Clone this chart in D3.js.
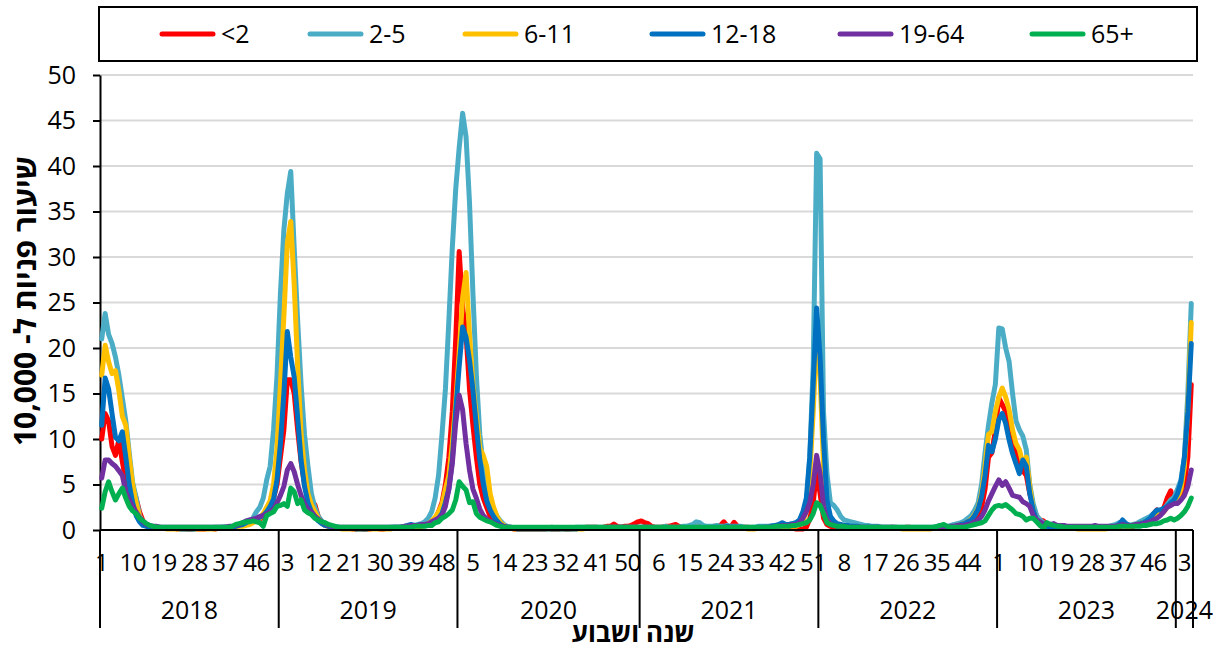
<!DOCTYPE html>
<html lang="he">
<head>
  <meta charset="UTF-8">
  <title>שיעור פניות ל- 10,000</title>
  <script src="https://cdn.jsdelivr.net/npm/d3@7"></script>
  <style>
    body { margin: 0; background: #fff; }
    svg text { font-family: "Open Sans", "DejaVu Sans", sans-serif; fill: #000; }
  </style>
</head>
<body>
<svg id="chart" width="1215" height="650"></svg>
<script>
  // categories: ISO year + week
  const years = [2018, 2019, 2020, 2021, 2022, 2023, 2024];
  const weeksPerYear = [52, 52, 53, 52, 52, 52, 5];
  const labelEvery = 9;
  const yTicks = [0, 5, 10, 15, 20, 25, 30, 35, 40, 45, 50];
  const seriesNames = ['<2', '2-5', '6-11', '12-18', '19-64', '65+'];
  const seriesColors = ['#ff0000', '#4bacc6', '#ffc000', '#0070c0', '#7030a0', '#00b050'];

  // weekly rates per 10,000, one row per year
  const lt2 = [
    [10, 12.8, 12, 9.2, 8.2, 9.9, 7.5, 5.5, 4.5, 4.5, 3.5, 2, 1, 0.6, 0.4, 0.3, 0.3, 0.2, 0.2, 0.2, 0.2, 0.2, 0.1, 0.2, 0.2, 0.1, 0.1, 0.2, 0.1, 0.1, 0.1, 0.2, 0.2, 0.1, 0.2, 0.2, 0.3, 0.3, 0.3, 0.4, 0.5, 0.6, 0.7, 0.9, 1, 1.1, 1.2, 1.4, 1.8, 2.5, 3.5, 5],
    [8, 11, 16.5, 16.5, 15, 11, 7.5, 5, 3.5, 3, 2.8, 1.5, 0.8, 0.5, 0.4, 0.3, 0.3, 0.2, 0.2, 0.2, 0.2, 0.1, 0.1, 0.2, 0.1, 0.1, 0.1, 0.2, 0.2, 0.1, 0.1, 0.2, 0.2, 0.2, 0.2, 0.3, 0.3, 0.3, 0.4, 0.4, 0.4, 0.5, 0.5, 0.6, 0.8, 1.2, 2, 3, 5, 8, 13, 21],
    [30.6, 24.5, 21.5, 15.5, 11.5, 8, 5, 3.5, 2.5, 1.5, 1, 0.7, 0.5, 0.3, 0.2, 0.2, 0.1, 0.1, 0.1, 0.1, 0.1, 0.1, 0.1, 0.1, 0.1, 0.1, 0.2, 0.1, 0.1, 0.1, 0.2, 0.1, 0.1, 0.2, 0.2, 0.2, 0.2, 0.3, 0.3, 0.3, 0.3, 0.2, 0.3, 0.4, 0.4, 0.65, 0.4, 0.3, 0.4, 0.4, 0.5, 0.7, 0.9],
    [1, 0.8, 0.7, 0.4, 0.3, 0.3, 0.3, 0.4, 0.4, 0.5, 0.6, 0.4, 0.3, 0.3, 0.3, 0.2, 0.3, 0.3, 0.3, 0.3, 0.3, 0.4, 0.4, 0.5, 0.9, 0.4, 0.3, 0.85, 0.4, 0.3, 0.3, 0.3, 0.2, 0.2, 0.2, 0.2, 0.2, 0.3, 0.3, 0.3, 0.3, 0.3, 0.3, 0.3, 0.2, 0.1, 0.1, 0.1, 0.3, 1.2, 3, 6.5],
    [4, 1.3, 0.6, 0.4, 0.3, 0.3, 0.3, 0.2, 0.2, 0.3, 0.3, 0.3, 0.2, 0.2, 0.2, 0.2, 0.2, 0.2, 0.2, 0.2, 0.2, 0.3, 0.2, 0.2, 0.2, 0.3, 0.3, 0.2, 0.2, 0.2, 0.2, 0.2, 0.2, 0.2, 0.2, 0.3, 0.3, 0.3, 0.3, 0.3, 0.4, 0.4, 0.5, 0.6, 0.8, 1, 1.5, 2.5, 4.5, 8, 8.5, 11],
    [14.5, 13.8, 13, 11.5, 10, 8.5, 7.5, 6.5, 6, 4, 2.6, 1.5, 1.1, 1, 0.6, 0.5, 0.4, 0.4, 0.3, 0.3, 0.3, 0.3, 0.3, 0.3, 0.2, 0.2, 0.2, 0.2, 0.2, 0.2, 0.2, 0.2, 0.2, 0.2, 0.2, 0.3, 0.5, 0.4, 0.3, 0.4, 0.5, 0.6, 0.7, 0.8, 1, 1.8, 2.2, 1.8, 2.4, 3.5, 4.3, 3.2],
    [3, 4, 5, 8, 16]
  ];
  const a2to5 = [
    [21, 23.8, 21.5, 20.5, 19, 17, 14.5, 12, 8.5, 5.2, 3.6, 1.6, 0.8, 0.5, 0.4, 0.3, 0.3, 0.3, 0.2, 0.2, 0.2, 0.2, 0.2, 0.2, 0.2, 0.2, 0.2, 0.2, 0.2, 0.2, 0.2, 0.2, 0.2, 0.3, 0.3, 0.3, 0.3, 0.3, 0.3, 0.4, 0.5, 0.6, 0.8, 1, 1.3, 2, 2.5, 3.5, 5.5, 7, 11, 17],
    [26, 33, 37, 39.4, 31, 23, 16, 10.5, 7, 4, 2.5, 1.5, 1, 0.7, 0.5, 0.4, 0.3, 0.3, 0.2, 0.2, 0.2, 0.2, 0.2, 0.2, 0.2, 0.2, 0.2, 0.2, 0.2, 0.2, 0.2, 0.2, 0.3, 0.3, 0.3, 0.3, 0.3, 0.4, 0.4, 0.5, 0.6, 0.7, 0.9, 1.3, 2, 3.5, 6, 10.5, 15.5, 23, 31, 37.5],
    [42, 45.8, 43.2, 36, 26, 17, 10.5, 7, 5, 3.5, 2.3, 1.5, 1, 0.6, 0.4, 0.3, 0.2, 0.2, 0.2, 0.2, 0.2, 0.2, 0.2, 0.2, 0.2, 0.2, 0.2, 0.3, 0.2, 0.2, 0.2, 0.2, 0.2, 0.2, 0.3, 0.3, 0.3, 0.3, 0.3, 0.3, 0.3, 0.3, 0.3, 0.3, 0.3, 0.3, 0.3, 0.3, 0.3, 0.3, 0.3, 0.3, 0.3],
    [0.3, 0.3, 0.3, 0.3, 0.3, 0.3, 0.3, 0.4, 0.3, 0.3, 0.3, 0.3, 0.4, 0.4, 0.5, 0.6, 0.9, 0.8, 0.5, 0.4, 0.4, 0.4, 0.5, 0.4, 0.4, 0.5, 0.4, 0.4, 0.4, 0.4, 0.3, 0.3, 0.3, 0.3, 0.4, 0.4, 0.4, 0.4, 0.5, 0.5, 0.5, 0.6, 0.6, 0.6, 0.7, 0.8, 1, 1.5, 2.5, 8, 18, 41.4],
    [40.8, 13, 6.2, 3, 2.7, 2.2, 1.5, 1.1, 1, 0.9, 0.8, 0.7, 0.6, 0.5, 0.5, 0.4, 0.4, 0.4, 0.3, 0.3, 0.3, 0.3, 0.3, 0.3, 0.3, 0.3, 0.3, 0.3, 0.3, 0.3, 0.3, 0.3, 0.3, 0.3, 0.4, 0.5, 0.4, 0.4, 0.5, 0.6, 0.7, 0.8, 1, 1.3, 1.6, 2.2, 3, 5, 8.5, 11.5, 14, 16],
    [22.2, 22.1, 20, 18.5, 15, 12, 11, 10.3, 8.8, 5, 2.9, 1.6, 1.1, 0.8, 0.6, 0.5, 0.5, 0.4, 0.4, 0.4, 0.3, 0.3, 0.3, 0.3, 0.3, 0.3, 0.3, 0.3, 0.3, 0.3, 0.3, 0.3, 0.4, 0.5, 0.6, 0.8, 0.9, 0.7, 0.5, 0.6, 0.7, 0.9, 1.1, 1.3, 1.5, 1.8, 1.8, 2, 2.2, 2.8, 3.3, 3.6],
    [4.5, 5.5, 8, 15, 24.9]
  ];
  const a6to11 = [
    [17, 20.3, 18.5, 17.2, 17.5, 15.3, 12.5, 11.5, 8, 5, 3, 1.5, 0.7, 0.4, 0.3, 0.2, 0.2, 0.2, 0.2, 0.1, 0.1, 0.1, 0.1, 0.1, 0.1, 0.1, 0.1, 0.1, 0.1, 0.1, 0.1, 0.1, 0.1, 0.1, 0.2, 0.2, 0.2, 0.2, 0.3, 0.3, 0.4, 0.4, 0.5, 0.6, 0.8, 1, 1.3, 1.8, 2.5, 3.2, 5, 9],
    [16, 23.5, 31.5, 33.9, 27, 18, 10.6, 6.6, 4, 2.8, 2, 1.3, 0.8, 0.5, 0.4, 0.2, 0.2, 0.2, 0.1, 0.1, 0.1, 0.1, 0.1, 0.1, 0.1, 0.1, 0.1, 0.1, 0.1, 0.1, 0.1, 0.1, 0.1, 0.2, 0.2, 0.2, 0.2, 0.3, 0.3, 0.3, 0.3, 0.4, 0.5, 0.7, 1, 1.4, 2, 2.8, 4.5, 6, 9.5, 14],
    [19.5, 25.5, 28.3, 21.5, 16, 12.5, 9, 8.2, 7, 4, 2.5, 1.5, 0.8, 0.5, 0.3, 0.2, 0.1, 0.1, 0.1, 0.1, 0.1, 0.1, 0.1, 0.1, 0.1, 0.1, 0.1, 0.1, 0.1, 0.1, 0.1, 0.1, 0.1, 0.1, 0.1, 0.1, 0.1, 0.2, 0.2, 0.2, 0.2, 0.2, 0.2, 0.2, 0.2, 0.2, 0.2, 0.2, 0.2, 0.2, 0.2, 0.2, 0.2],
    [0.2, 0.2, 0.2, 0.2, 0.2, 0.2, 0.2, 0.2, 0.2, 0.2, 0.2, 0.2, 0.2, 0.2, 0.2, 0.2, 0.3, 0.3, 0.2, 0.2, 0.2, 0.2, 0.2, 0.2, 0.2, 0.2, 0.2, 0.2, 0.2, 0.2, 0.2, 0.1, 0.1, 0.1, 0.2, 0.2, 0.2, 0.2, 0.3, 0.3, 0.3, 0.3, 0.3, 0.4, 0.4, 0.4, 0.6, 1, 2, 6, 13, 21.5],
    [17, 7, 2.5, 1.2, 0.8, 0.6, 0.5, 0.4, 0.4, 0.3, 0.3, 0.3, 0.3, 0.2, 0.2, 0.2, 0.2, 0.2, 0.2, 0.2, 0.2, 0.2, 0.2, 0.2, 0.1, 0.1, 0.1, 0.1, 0.1, 0.1, 0.1, 0.1, 0.1, 0.2, 0.2, 0.3, 0.3, 0.3, 0.3, 0.4, 0.5, 0.6, 0.7, 0.9, 1.2, 1.7, 2.4, 4, 7, 10.5, 10.8, 13],
    [14.6, 15.6, 14.6, 13.2, 11, 9.5, 8.8, 7.3, 8, 4.8, 2.2, 1.1, 0.7, 0.5, 0.4, 0.3, 0.3, 0.3, 0.2, 0.2, 0.2, 0.2, 0.2, 0.1, 0.1, 0.1, 0.1, 0.1, 0.1, 0.1, 0.1, 0.1, 0.2, 0.2, 0.3, 0.4, 0.5, 0.4, 0.4, 0.5, 0.6, 0.7, 0.8, 0.9, 1.1, 1.4, 1.6, 1.8, 2, 2.5, 2.8, 3],
    [3.5, 4.5, 7, 13.5, 22.8]
  ];
  const a12to18 = [
    [11.5, 16.7, 15.5, 12.8, 10.2, 9.8, 10.8, 8, 5, 3, 1.6, 0.9, 0.5, 0.4, 0.3, 0.3, 0.2, 0.2, 0.2, 0.2, 0.2, 0.2, 0.2, 0.1, 0.1, 0.1, 0.1, 0.1, 0.2, 0.2, 0.2, 0.2, 0.2, 0.2, 0.2, 0.3, 0.3, 0.3, 0.3, 0.4, 0.5, 0.6, 0.8, 1, 1.1, 1.2, 1.4, 1.6, 2, 2.6, 3.4, 5.5],
    [9.5, 15, 21.8, 19, 16.8, 12.4, 7.7, 4.8, 3, 2, 1.5, 1, 0.7, 0.5, 0.4, 0.3, 0.3, 0.2, 0.2, 0.2, 0.2, 0.2, 0.1, 0.1, 0.1, 0.1, 0.2, 0.2, 0.2, 0.2, 0.2, 0.2, 0.2, 0.3, 0.3, 0.3, 0.4, 0.5, 0.6, 0.5, 0.5, 0.6, 0.5, 0.6, 0.8, 1, 1.3, 1.8, 3, 4.5, 7.7, 13.2],
    [18, 22.3, 21.2, 18.7, 15.4, 11.4, 7.7, 5.1, 3.2, 2.2, 1.5, 1, 0.6, 0.4, 0.3, 0.2, 0.2, 0.1, 0.1, 0.1, 0.1, 0.1, 0.1, 0.1, 0.1, 0.1, 0.1, 0.1, 0.1, 0.1, 0.1, 0.1, 0.1, 0.1, 0.1, 0.2, 0.2, 0.2, 0.2, 0.2, 0.2, 0.2, 0.2, 0.2, 0.2, 0.2, 0.2, 0.2, 0.2, 0.2, 0.2, 0.2, 0.2],
    [0.2, 0.2, 0.2, 0.2, 0.2, 0.2, 0.2, 0.2, 0.2, 0.2, 0.2, 0.2, 0.2, 0.2, 0.2, 0.2, 0.3, 0.3, 0.2, 0.2, 0.2, 0.3, 0.3, 0.3, 0.3, 0.4, 0.3, 0.3, 0.3, 0.3, 0.2, 0.2, 0.2, 0.2, 0.3, 0.3, 0.3, 0.3, 0.4, 0.5, 0.6, 0.8, 0.6, 0.6, 0.7, 0.8, 1.1, 2, 3.5, 8, 16, 24.4],
    [19, 10, 3.3, 1.5, 1, 0.7, 0.6, 0.5, 0.5, 0.4, 0.4, 0.4, 0.3, 0.3, 0.3, 0.3, 0.3, 0.3, 0.2, 0.2, 0.2, 0.2, 0.2, 0.2, 0.2, 0.2, 0.2, 0.2, 0.2, 0.2, 0.2, 0.2, 0.2, 0.2, 0.3, 0.5, 0.4, 0.3, 0.3, 0.4, 0.5, 0.6, 0.7, 0.9, 1.1, 1.6, 2.3, 3.7, 6, 9.3, 8.6, 10],
    [12.1, 12.8, 11.7, 9.9, 8.4, 7.3, 6.2, 7.7, 7, 4, 2.2, 1.1, 0.7, 0.5, 0.4, 0.3, 0.3, 0.3, 0.3, 0.2, 0.2, 0.2, 0.2, 0.2, 0.2, 0.2, 0.2, 0.2, 0.2, 0.2, 0.2, 0.2, 0.3, 0.3, 0.4, 0.6, 1.1, 0.7, 0.5, 0.5, 0.6, 0.7, 0.8, 1, 1.3, 1.8, 2.2, 2.2, 2.4, 2.6, 3, 3.3],
    [4, 5.3, 8, 13, 20.5]
  ];
  const a19to64 = [
    [5.7, 7.7, 7.7, 7.3, 7, 6.5, 6, 4.2, 3.3, 2.6, 2, 1.4, 0.9, 0.6, 0.5, 0.4, 0.4, 0.3, 0.3, 0.3, 0.3, 0.3, 0.3, 0.3, 0.3, 0.3, 0.3, 0.3, 0.3, 0.3, 0.3, 0.3, 0.3, 0.3, 0.3, 0.3, 0.3, 0.4, 0.4, 0.5, 0.6, 0.8, 1, 1.1, 1.2, 1.3, 1.5, 1.6, 1.8, 2, 2.3, 3],
    [3.8, 4.8, 6.6, 7.3, 6.4, 5, 3.8, 2.9, 2.3, 2, 1.5, 1.2, 0.9, 0.7, 0.5, 0.4, 0.3, 0.3, 0.3, 0.3, 0.3, 0.3, 0.3, 0.3, 0.3, 0.3, 0.3, 0.3, 0.3, 0.3, 0.3, 0.3, 0.3, 0.3, 0.3, 0.3, 0.4, 0.4, 0.5, 0.5, 0.5, 0.6, 0.6, 0.7, 0.9, 1.1, 1.3, 1.6, 2.6, 4.5, 7.3, 11.8],
    [14.8, 13.2, 9.5, 6.6, 4.5, 3.5, 2.3, 1.6, 1.2, 1, 0.8, 0.6, 0.5, 0.4, 0.3, 0.3, 0.2, 0.2, 0.2, 0.2, 0.2, 0.2, 0.2, 0.2, 0.2, 0.2, 0.2, 0.2, 0.2, 0.2, 0.2, 0.2, 0.2, 0.2, 0.2, 0.2, 0.2, 0.2, 0.2, 0.2, 0.2, 0.2, 0.2, 0.2, 0.3, 0.3, 0.3, 0.3, 0.3, 0.3, 0.3, 0.3, 0.3],
    [0.3, 0.3, 0.3, 0.3, 0.2, 0.2, 0.2, 0.2, 0.2, 0.2, 0.2, 0.2, 0.2, 0.2, 0.2, 0.2, 0.2, 0.2, 0.2, 0.2, 0.2, 0.2, 0.2, 0.2, 0.3, 0.3, 0.3, 0.3, 0.3, 0.2, 0.2, 0.2, 0.2, 0.2, 0.2, 0.2, 0.3, 0.3, 0.3, 0.4, 0.4, 0.5, 0.5, 0.5, 0.6, 0.6, 0.8, 1.3, 2, 3, 5, 8.2],
    [6.2, 2.6, 1.1, 0.7, 0.5, 0.4, 0.4, 0.4, 0.3, 0.3, 0.3, 0.3, 0.3, 0.3, 0.3, 0.3, 0.3, 0.3, 0.3, 0.3, 0.3, 0.3, 0.3, 0.2, 0.2, 0.2, 0.2, 0.2, 0.2, 0.2, 0.2, 0.2, 0.2, 0.2, 0.3, 0.3, 0.3, 0.3, 0.4, 0.4, 0.5, 0.5, 0.5, 0.6, 0.7, 0.9, 1.1, 1.5, 2.2, 3.2, 4, 4.8],
    [5.5, 4.9, 5.3, 4.6, 3.8, 3.7, 3.6, 3.1, 2.9, 2.6, 1.6, 1.1, 0.9, 0.7, 0.6, 0.6, 0.7, 0.5, 0.5, 0.5, 0.4, 0.4, 0.4, 0.4, 0.4, 0.4, 0.4, 0.4, 0.5, 0.4, 0.4, 0.4, 0.4, 0.4, 0.4, 0.5, 0.6, 0.5, 0.5, 0.5, 0.6, 0.6, 0.7, 0.8, 0.9, 1.1, 1.3, 1.6, 2, 2.5, 2.7, 2.9],
    [2.9, 3.3, 3.8, 4.8, 6.6]
  ];
  const a65plus = [
    [2.4, 4.2, 5.3, 4.2, 3.3, 4, 4.6, 3.5, 2.6, 2.1, 1.8, 1.3, 1, 0.7, 0.5, 0.4, 0.3, 0.3, 0.3, 0.3, 0.3, 0.3, 0.3, 0.3, 0.3, 0.3, 0.3, 0.3, 0.3, 0.3, 0.3, 0.3, 0.3, 0.3, 0.3, 0.3, 0.3, 0.3, 0.4, 0.6, 0.7, 0.8, 0.9, 0.9, 1, 0.9, 0.8, 0.4, 1.6, 1.8, 2, 2.6],
    [2.7, 2.9, 2.6, 4.6, 4.2, 2.9, 3.3, 2.2, 1.9, 1.7, 1.3, 1.1, 0.9, 0.8, 0.6, 0.5, 0.4, 0.3, 0.3, 0.3, 0.3, 0.3, 0.3, 0.3, 0.3, 0.3, 0.3, 0.3, 0.3, 0.3, 0.3, 0.3, 0.3, 0.3, 0.3, 0.3, 0.3, 0.3, 0.3, 0.4, 0.4, 0.4, 0.4, 0.5, 0.5, 0.8, 0.9, 1.3, 1.5, 1.8, 2.2, 3.3],
    [5.3, 4.8, 4.4, 3, 3.1, 1.8, 1.4, 1.2, 1, 0.9, 0.7, 0.5, 0.4, 0.3, 0.3, 0.3, 0.3, 0.3, 0.3, 0.3, 0.3, 0.3, 0.3, 0.3, 0.3, 0.3, 0.3, 0.3, 0.3, 0.3, 0.3, 0.3, 0.3, 0.3, 0.3, 0.3, 0.3, 0.3, 0.3, 0.3, 0.3, 0.3, 0.3, 0.3, 0.3, 0.3, 0.3, 0.3, 0.3, 0.3, 0.3, 0.3, 0.3],
    [0.3, 0.3, 0.3, 0.3, 0.3, 0.3, 0.3, 0.3, 0.3, 0.3, 0.3, 0.3, 0.3, 0.3, 0.3, 0.3, 0.3, 0.3, 0.3, 0.3, 0.3, 0.3, 0.3, 0.3, 0.3, 0.3, 0.3, 0.3, 0.3, 0.3, 0.3, 0.3, 0.3, 0.3, 0.3, 0.3, 0.3, 0.3, 0.3, 0.4, 0.4, 0.4, 0.4, 0.4, 0.5, 0.5, 0.6, 0.7, 0.8, 1.1, 1.8, 3],
    [2.7, 1.8, 0.8, 0.6, 0.5, 0.4, 0.4, 0.4, 0.3, 0.3, 0.3, 0.3, 0.3, 0.3, 0.3, 0.3, 0.3, 0.3, 0.3, 0.3, 0.3, 0.3, 0.3, 0.3, 0.3, 0.3, 0.3, 0.3, 0.3, 0.3, 0.3, 0.3, 0.3, 0.3, 0.4, 0.5, 0.6, 0.4, 0.3, 0.3, 0.3, 0.3, 0.3, 0.4, 0.5, 0.6, 0.7, 0.8, 1, 1.6, 2.2, 2.6],
    [2.7, 2.6, 2.8, 2.5, 2.2, 1.8, 1.7, 1.5, 1.1, 1.3, 1.3, 0.9, 0.5, 0.2, 0.8, 0.6, 0.5, 0.4, 0.4, 0.3, 0.3, 0.3, 0.3, 0.3, 0.3, 0.3, 0.3, 0.3, 0.3, 0.3, 0.3, 0.3, 0.3, 0.3, 0.3, 0.4, 0.4, 0.4, 0.4, 0.4, 0.4, 0.4, 0.5, 0.5, 0.6, 0.7, 0.7, 0.8, 1, 1.1, 1.3, 1.1],
    [1.3, 1.6, 2, 2.6, 3.5]
  ];

  const yTitle = 'שיעור פניות ל- 10,000';
  const xTitle = 'שנה ושבוע';

  // ---- layout ----
  const plot = {left: 100, right: 1193, top: 75, bottom: 530};
  const legendBox = {x: 99, y: 7, w: 1098, h: 54};
  const legendX = [160, 308, 463, 650, 838, 1030];
  const fontSize = 25;
  const titleSize = 30;

  const categories = [];
  years.forEach((yr, k) => {
    d3.range(1, weeksPerYear[k] + 1).forEach(w => categories.push({year: yr, week: w}));
  });
  const seriesData = [lt2, a2to5, a6to11, a12to18, a19to64, a65plus].map(s => s.flat());

  const svg = d3.select('#chart');

  const x = d3.scaleBand()
    .domain(d3.range(categories.length))
    .range([plot.left, plot.right])
    .padding(0);
  const cx = i => x(i) + x.bandwidth() / 2;

  const y = d3.scaleLinear()
    .domain([0, 50])
    .range([plot.bottom, plot.top]);

  // gridlines
  svg.append('g')
    .selectAll('line')
    .data(yTicks.filter(t => t > 0))
    .join('line')
      .attr('x1', plot.left)
      .attr('x2', plot.right)
      .attr('y1', d => y(d))
      .attr('y2', d => y(d))
      .attr('stroke', '#d9d9d9')
      .attr('stroke-width', 2);

  // y axis
  const yAxisG = svg.append('g')
    .attr('transform', `translate(${plot.left},0)`)
    .call(d3.axisLeft(y).tickValues(yTicks).tickSize(7).tickSizeOuter(0).tickPadding(17));
  yAxisG.select('.domain').attr('stroke', '#000').attr('stroke-width', 2);
  yAxisG.selectAll('.tick line').attr('stroke', '#000').attr('stroke-width', 2);
  yAxisG.selectAll('.tick text')
    .attr('font-size', fontSize)
    .attr('font-family', '"Open Sans", "DejaVu Sans", sans-serif')
    .attr('fill', '#000');

  // series lines (first series at the bottom, like Excel)
  const line = d3.line()
    .x((d, i) => cx(i))
    .y(d => y(d));

  svg.append('g')
    .selectAll('path')
    .data(seriesData)
    .join('path')
      .attr('d', d => line(d))
      .attr('fill', 'none')
      .attr('stroke', (d, i) => seriesColors[i])
      .attr('stroke-width', 5)
      .attr('stroke-linejoin', 'round')
      .attr('stroke-linecap', 'round');

  // x axis: baseline, year separators, week labels, year labels
  const xAxisG = svg.append('g');
  xAxisG.append('line')
    .attr('x1', plot.left).attr('x2', plot.right)
    .attr('y1', plot.bottom).attr('y2', plot.bottom)
    .attr('stroke', '#000').attr('stroke-width', 2);

  const yearStart = [];
  let acc = 0;
  weeksPerYear.forEach(n => { yearStart.push(acc); acc += n; });
  const sepX = yearStart.map(i => x(i)).concat([plot.right]);

  xAxisG.selectAll('.sep')
    .data(sepX)
    .join('line')
      .attr('class', 'sep')
      .attr('x1', d => d).attr('x2', d => d)
      .attr('y1', plot.bottom).attr('y2', 628)
      .attr('stroke', '#000').attr('stroke-width', 2);

  xAxisG.selectAll('.wk')
    .data(categories.map((c, i) => ({c, i})).filter(d => d.i % labelEvery === 0))
    .join('text')
      .attr('class', 'wk')
      .attr('x', d => cx(d.i))
      .attr('y', 571)
      .attr('text-anchor', 'middle')
      .attr('font-size', 24)
      .attr('letter-spacing', -0.5)
      .text(d => d.c.week);

  xAxisG.selectAll('.yr')
    .data(years)
    .join('text')
      .attr('class', 'yr')
      .attr('x', (d, k) => (x(yearStart[k]) + x(yearStart[k] + weeksPerYear[k] - 1) + x.bandwidth()) / 2)
      .attr('y', 619)
      .attr('text-anchor', 'middle')
      .attr('font-size', fontSize)
      .text(d => d);

  // axis titles
  svg.append('text')
    .attr('transform', 'translate(36,301) rotate(-90)')
    .attr('text-anchor', 'middle')
    .attr('direction', 'rtl')
    .attr('font-size', titleSize)
    .attr('font-weight', 'bold')
    .text(yTitle);

  svg.append('text')
    .attr('x', 633)
    .attr('y', 642)
    .attr('text-anchor', 'middle')
    .attr('direction', 'rtl')
    .attr('font-size', 26)
    .attr('font-weight', 'bold')
    .text(xTitle);

  // legend
  svg.append('rect')
    .attr('x', legendBox.x).attr('y', legendBox.y)
    .attr('width', legendBox.w).attr('height', legendBox.h)
    .attr('fill', 'none').attr('stroke', '#000').attr('stroke-width', 2);

  const legendItems = svg.append('g')
    .selectAll('g')
    .data(seriesNames)
    .join('g')
      .attr('transform', (d, i) => `translate(${legendX[i]},${legendBox.y + legendBox.h / 2})`);
  legendItems.append('line')
    .attr('x1', 2).attr('x2', 53)
    .attr('stroke', (d, i) => seriesColors[i])
    .attr('stroke-width', 5)
    .attr('stroke-linecap', 'round');
  legendItems.append('text')
    .attr('x', 61)
    .attr('y', 9)
    .attr('font-size', fontSize)
    .text(d => d);
</script>
</body>
</html>
